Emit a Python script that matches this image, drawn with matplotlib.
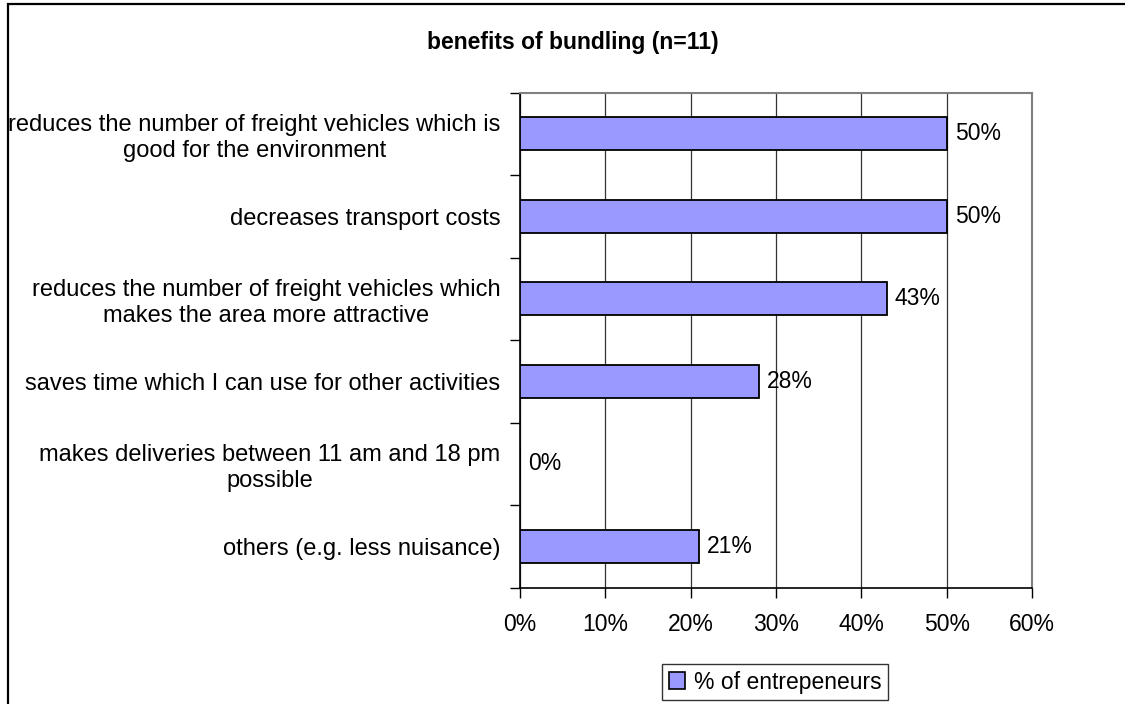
import matplotlib
matplotlib.use("Agg")
import matplotlib.pyplot as plt
from matplotlib.patches import Rectangle, Patch
import numpy as np

plt.rcParams['font.family'] = ['Liberation Sans', 'DejaVu Sans']

categories = [
    "reduces the number of freight vehicles which is\ngood for the environment",
    "decreases transport costs",
    "reduces the number of freight vehicles which\nmakes the area more attractive",
    "saves time which I can use for other activities",
    "makes deliveries between 11 am and 18 pm\npossible",
    "others (e.g. less nuisance)",
]
values = [50, 50, 43, 28, 0, 21]
value_labels = ["50%", "50%", "43%", "28%", "0%", "21%"]
xticks = [0, 10, 20, 30, 40, 50, 60]
xtick_labels = ["0%", "10%", "20%", "30%", "40%", "50%", "60%"]
title = "benefits of bundling (n=11)"
series_name = "% of entrepeneurs"

W, H = 1125, 704
fig = plt.figure(figsize=(W / 100, H / 100), dpi=100)

# outer frame
fig.patches.append(Rectangle((8 / W, -0.05), 1.2, 1 - 4 / H + 0.05, transform=fig.transFigure,
                             fill=False, edgecolor='black', linewidth=1.6))

left, right, top, bottom = 520, 1032, 92.7, 587.7
ax = fig.add_axes([left / W, 1 - bottom / H, (right - left) / W, (bottom - top) / H])

n = len(categories)
ypos = np.arange(n)
ax.barh(ypos, values, height=0.4, color='#9999FF', edgecolor='black', linewidth=1.3, zorder=3)
ax.set_ylim(n - 0.5, -0.5)
ax.set_xlim(0, 60)

ax.set_yticks(ypos)
ax.set_yticklabels(categories, fontsize=17, multialignment='center')
ax.tick_params(axis='y', which='major', length=0, pad=14)
ax.set_yticks(np.arange(n + 1) - 0.5, minor=True)
ax.tick_params(axis='y', which='minor', length=7, width=1, color='black', direction='out')

ax.set_xticks(xticks)
ax.set_xticklabels(xtick_labels, fontsize=16.5)
ax.tick_params(axis='x', length=7, width=1, color='black', direction='out', pad=11)

ax.grid(axis='x', color='#333333', linewidth=0.9, zorder=0)
ax.set_axisbelow(True)

for s in ['top', 'right']:
    ax.spines[s].set_color('#808080')
    ax.spines[s].set_linewidth(1.5)
for s in ['left', 'bottom']:
    ax.spines[s].set_color('black')
    ax.spines[s].set_linewidth(1.2)

for y, v, lab in zip(ypos, values, value_labels):
    ax.annotate(lab, xy=(v, y), xytext=(8, 0), textcoords='offset pixels',
                va='center', ha='left', fontsize=16.5)

fig.text(573 / W, 1 - 42 / H, title, ha='center', va='center', fontsize=16.5, fontweight='bold')

leg = fig.legend(handles=[Patch(facecolor='#9999FF', edgecolor='black', linewidth=1.2, label=series_name)],
                 loc='center', bbox_to_anchor=(775 / W, 1 - 682 / H), fontsize=16.5,
                 frameon=True, fancybox=False, shadow=False, handlelength=0.7, handleheight=0.7,
                 handletextpad=0.4, borderpad=0.3)
leg.get_frame().set_edgecolor('black')
leg.get_frame().set_linewidth(1.0)

fig.savefig("out.png", dpi=100)
